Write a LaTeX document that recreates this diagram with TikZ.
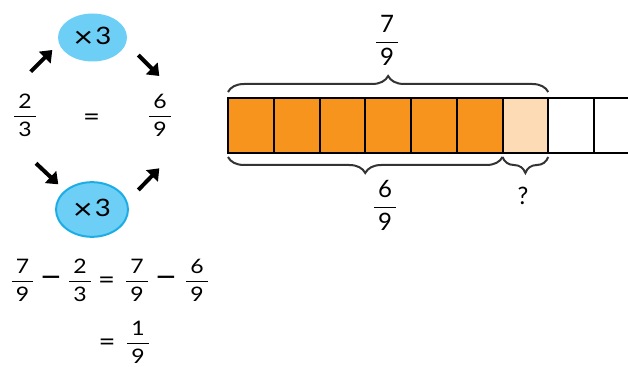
\documentclass[tikz,border=0pt]{standalone}
\usepackage{fontspec}
\usepackage{amsmath}
\setmainfont{Lato}
\newfontfamily\anchafont[FakeStretch=1.15]{Lato}
\usetikzlibrary{
    positioning,
    calc,
    shapes.geometric,
    arrows.meta,
    decorations.pathreplacing
}
\definecolor{Naranja}{HTML}{F7941D}
\definecolor{NaranjaClaro}{HTML}{FDDBB4}
\definecolor{AzulCeleste}{HTML}{6DCFF6}
\definecolor{AzulBorde}{HTML}{1CADE4}
\definecolor{GrisLlave}{HTML}{333333}
\newcommand{\vfrac}[2]{$\genfrac{}{}{1.1pt}{0}{\kern3pt\text{#1}\kern3pt}{\kern3pt\text{#2}\kern3pt}$}
\newcommand{\portres}{\raisebox{-2.5pt}{\fontsize{22}{22}\selectfont ×}\kern1.5pt 3}

\begin{document}
\begin{tikzpicture}[
    x=0.75pt, y=-0.75pt,
    celda/.style={draw=black, line width=1.5pt, minimum width=34.31pt, minimum height=41.25pt, inner sep=0pt, outer sep=0pt},
    llave/.style={decorate, decoration={brace, amplitude=12pt}, line width=1.5pt, draw=GrisLlave},
    flecha/.style={line width=3pt, -{Triangle[length=8pt, width=12pt]}},
    elipse/.style={ellipse, fill=AzulCeleste, inner sep=0pt, font=\anchafont\fontsize{18}{20}\selectfont},
    texto/.style={inner sep=0pt, font=\anchafont\fontsize{15}{18}\selectfont},
    signo/.style={inner sep=0pt, font=\anchafont\fontsize{19}{22}\selectfont},
    menos/.style={inner sep=0pt, font=\anchafont\fontsize{25}{28}\selectfont},
    etiqueta/.style={inner sep=0pt, font=\fontsize{18}{21}\selectfont}
]
\useasboundingbox (0,0) rectangle (628,367);
\clip (0,0) rectangle (628,367);

% ciclo de la fraccion equivalente
\node[elipse, minimum width=51.75pt, minimum height=36pt] (porTresArriba) at (92.5,37.5) {\portres};
\node[elipse, draw=AzulBorde, line width=1.5pt, minimum width=54pt, minimum height=41pt] (porTresAbajo) at (92,209.5) {\portres};
\node[texto] (dosTercios) at (25,115) {\vfrac{2}{3}};
\node[signo] (igualArriba) at (91.5,120) {=};
\node[texto] (seisNovenosIzq) at (160,115) {\vfrac{6}{9}};

\coordinate (a1) at (30.7,71.7);  \coordinate (b1) at (52.3,50);
\coordinate (a2) at (138.3,55);   \coordinate (b2) at (159.3,76);
\coordinate (a3) at (36,163.3);   \coordinate (b3) at (58.3,184.3);
\coordinate (a4) at (138.3,190);  \coordinate (b4) at (159.3,168.3);
\foreach \k in {1,...,4}
    \draw[flecha] (a\k) -- (b\k);

% resta
\foreach \x/\y/\t [count=\k] in {22.5/280/{\vfrac{7}{9}}, 80/280/{\vfrac{2}{3}}, 137/280/{\vfrac{7}{9}}, 197/280/{\vfrac{6}{9}}}
    \node[texto] (fraccion\k) at (\x,\y) {\t};
\node[menos] (menos1) at (51,282.5) {−};
\node[signo] (igualResta) at (106.5,282.5) {=};
\node[menos] (menos2) at (166,282.5) {−};
\node[signo] (igualAbajo) at (107,344.5) {=};
\node[texto] (unNoveno) at (138,342) {\vfrac{1}{9}};

% barra de novenos
\foreach \i/\relleno in {1/Naranja,2/Naranja,3/Naranja,4/Naranja,5/Naranja,6/Naranja,7/NaranjaClaro,8/white,9/white,10/white}
    \node[celda, fill=\relleno] (c\i) at ({228+45.75*(\i-0.5)},125.5) {};

\draw[llave] ([yshift=4.5pt]c1.north west) -- ([yshift=4.5pt]c7.north east);
\draw[llave] ([yshift=-3pt]c6.south east) -- ([yshift=-3pt]c1.south west);
\draw[llave] ([yshift=-3pt]c7.south east) -- ([yshift=-3pt]c7.south west);

\node[etiqueta] (sieteNovenos) at (387,40.5) {\vfrac{7}{9}};
\node[etiqueta] (seisNovenos) at (385,205.5) {\vfrac{6}{9}};
\node[etiqueta] (pregunta) at (523,196) {?};
\end{tikzpicture}
\end{document}
